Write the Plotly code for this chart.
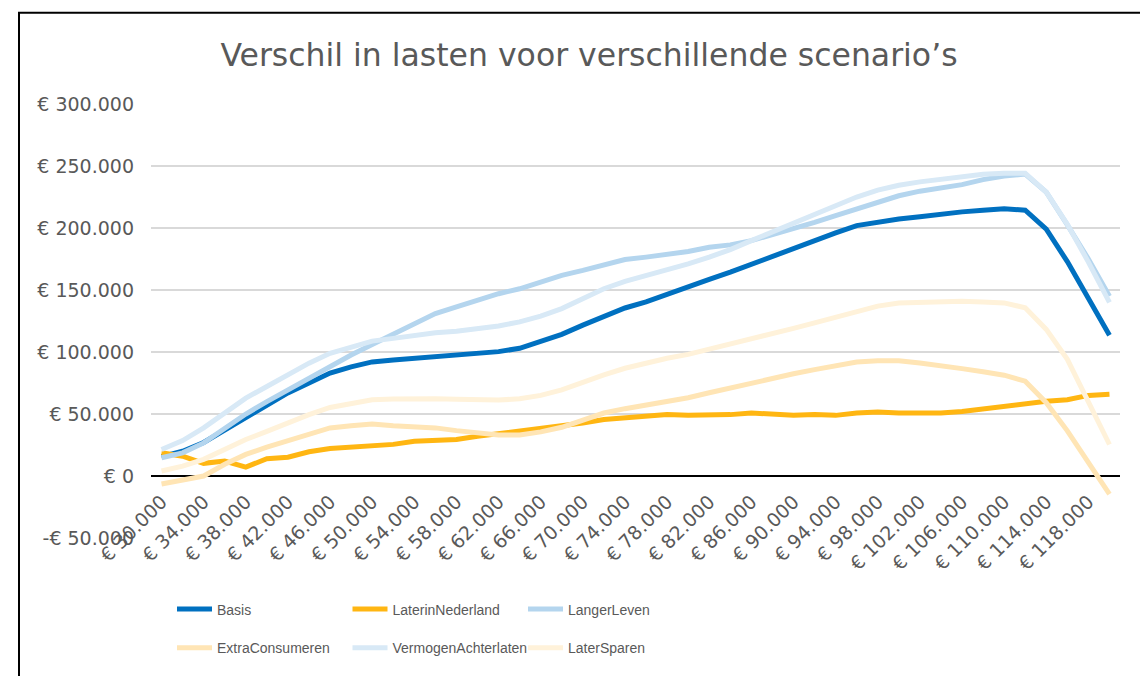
import plotly.graph_objects as go

# Income categories (€ 30.000 - € 120.000 in steps of € 2.000)
incomes = list(range(30000, 120001, 2000))
categories = ["€ " + f"{v:,}".replace(",", ".") for v in incomes]

basis = [15500, 20000, 27000, 37000, 48000, 57500, 67000, 75000, 83000, 88000,
         92000, 93500, 95000, 96300, 97600, 99000, 100300, 103000, 108300, 114200,
         121700, 129000, 135500, 140500, 146800, 152400, 158600, 164400, 170900, 177300,
         183700, 190000, 196000, 201900, 205000, 207200, 209000, 211500, 213000, 214400,
         215500, 214400, 199000, 172900, 143600, 113600]
later_in_nederland = [18700, 16000, 10200, 12000, 7200, 13900, 15200, 19500, 22200, 23300,
                      24000, 25500, 28000, 28900, 29400, 32000, 34000, 36000, 38200, 40100,
                      42800, 45500, 47000, 48900, 49500, 48900, 48900, 49500, 50800, 50000,
                      48900, 49500, 48900, 50800, 51600, 50800, 50500, 50800, 52100, 54300,
                      56100, 58000, 60200, 61500, 65000, 66000]
langer_leven = [14700, 18700, 26700, 38200, 50000, 60000, 69500, 78900, 88200, 97600,
                106000, 114000, 123000, 131000, 136400, 141700, 147000, 151000, 156400, 161800,
                165800, 170300, 174600, 176500, 178300, 181000, 184500, 186400, 189800, 194400,
                199700, 204500, 209900, 215200, 221000, 226000, 229700, 232400, 235000, 239000,
                242000, 243500, 229000, 202500, 175000, 145000]
extra_consumeren = [-6500, -3500, 0, 9400, 17400, 23300, 28600, 34000, 38800, 40600,
                    42000, 40500, 40100, 38800, 36600, 34800, 33000, 33000, 35600, 39300,
                    45500, 50800, 54300, 57200, 60400, 63100, 67100, 71100, 75100, 79100,
                    82400, 85800, 89300, 92000, 93000, 93000, 91200, 89300, 86600, 84000,
                    81300, 76500, 59100, 36400, 11000, -14700]
vermogen_achterlaten = [21400, 28600, 38800, 50800, 62800, 72200, 82000, 91000, 99000, 104300,
                        108800, 111000, 113600, 115500, 116800, 119000, 121000, 124300, 129000, 135000,
                        143000, 151000, 157000, 161800, 165800, 171100, 176500, 182600, 189800, 197000,
                        204000, 211200, 217900, 225000, 230500, 234500, 237200, 239300, 241400, 243300,
                        244100, 244100, 229000, 203000, 172500, 140000]
later_sparen = [4000, 8000, 13400, 21400, 29400, 36000, 42800, 49500, 55300, 58800,
                61500, 62000, 62300, 62300, 61800, 61200, 61200, 62300, 65000, 69500,
                75700, 81600, 86900, 91400, 94900, 98100, 102100, 106100, 110200, 114700,
                119000, 123500, 128100, 132300, 137000, 139500, 140000, 140500, 140900, 140400,
                139600, 135600, 118200, 94100, 60700, 25400]

series_names = ["Basis", "LaterinNederland", "LangerLeven",
                "ExtraConsumeren", "VermogenAchterlaten", "LaterSparen"]
series_values = [basis, later_in_nederland, langer_leven,
                 extra_consumeren, vermogen_achterlaten, later_sparen]
series_colors = ["#0070C0", "#FFB612", "#B4D5EE", "#FFE5B5", "#D8E9F6", "#FFF2DA"]
series_legend = ["legend", "legend", "legend", "legend2", "legend2", "legend2"]

y_ticks = [-50000, 0, 50000, 100000, 150000, 200000, 250000, 300000]
y_ticktext = ["-€ 50.000" if v < 0 else "€ " + f"{v:,}".replace(",", ".") for v in y_ticks]

TEXT = "#595959"
TICK_FONT = dict(family="DejaVu Sans, Verdana, sans-serif", size=19, color=TEXT)
LEGEND_FONT = dict(family="Liberation Sans, Arial, sans-serif", size=14, color=TEXT)

fig = go.Figure()
for name, vals, color, leg in zip(series_names, series_values, series_colors, series_legend):
    fig.add_trace(go.Scatter(
        x=categories, y=vals, name=name, mode="lines",
        line=dict(color=color, width=5),
        legend=leg,
    ))

# Carrier trace for the category label axis that sits on the zero line
fig.add_trace(go.Scatter(x=[], y=[], xaxis="x2", showlegend=False, hoverinfo="skip"))

y_min, y_max = -50000, 300000
zero_pos = (0 - y_min) / (y_max - y_min)
label_idx = list(range(0, len(categories), 2))

legend_common = dict(
    orientation="h", x=(172 - 151) / 969, xanchor="left", yanchor="middle",
    entrywidth=125.5, entrywidthmode="pixels", itemwidth=35,
    font=LEGEND_FONT, bgcolor="rgba(0,0,0,0)",
)

fig.update_layout(
    width=1140, height=676,
    margin=dict(l=151, r=20, t=104, b=135),
    paper_bgcolor="white", plot_bgcolor="white",
    title=dict(
        text="Verschil in lasten voor verschillende scenario’s",
        font=dict(family="DejaVu Sans, Verdana, sans-serif", size=31.5, color=TEXT),
        x=589 / 1140, xref="container", xanchor="center",
        y=1 - 55 / 676, yref="container", yanchor="middle",
    ),
    xaxis=dict(
        type="category", categoryorder="array", categoryarray=categories,
        range=[-0.5, len(categories) - 0.5],
        showticklabels=False, showgrid=False, zeroline=False, showline=False,
        fixedrange=True,
    ),
    xaxis2=dict(
        overlaying="x", anchor="free", position=zero_pos,
        range=[-0.5, len(categories) - 0.5],
        tickmode="array", tickvals=label_idx,
        ticktext=[categories[i] for i in label_idx],
        tickangle=-45, tickfont=TICK_FONT,
        ticks="", ticklabelstandoff=10,
        showgrid=False, zeroline=False, showline=False,
    ),
    yaxis=dict(
        range=[y_min, y_max],
        tickmode="array", tickvals=y_ticks, ticktext=y_ticktext,
        tickfont=TICK_FONT, ticklabelstandoff=16,
        showgrid=True, gridcolor="#D9D9D9", gridwidth=1.5,
        zeroline=True, zerolinecolor="#000000", zerolinewidth=2,
        showline=False,
    ),
    legend=dict(legend_common, y=(541 - 613) / 437),
    legend2=dict(legend_common, y=(541 - 652) / 437),
    shapes=[dict(
        type="rect", xref="paper", yref="paper",
        x0=(19 - 151) / 969, x1=1.1,
        y0=-0.5, y1=(541 - 12) / 437,
        line=dict(color="#000000", width=2), fillcolor="rgba(0,0,0,0)",
        layer="below",
    )],
    showlegend=True,
)

fig.write_html("out.html")
